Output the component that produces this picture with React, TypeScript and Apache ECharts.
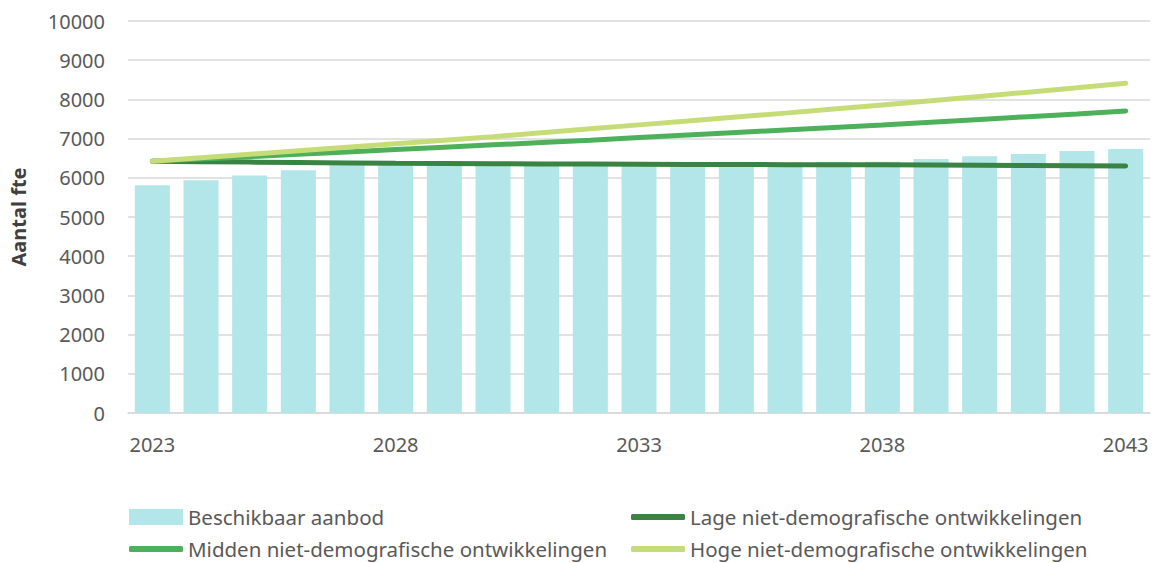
import React, { useEffect, useRef } from "react";
import * as echarts from "echarts";

const years = ["2023","2024","2025","2026","2027","2028","2029","2030","2031","2032","2033","2034","2035","2036","2037","2038","2039","2040","2041","2042","2043"];
const aanbod = [5810, 5940, 6060, 6195, 6320, 6340, 6350, 6360, 6370, 6370, 6380, 6380, 6390, 6390, 6400, 6410, 6480, 6550, 6610, 6685, 6735];
const lage = [6420, 6410, 6400, 6390, 6380, 6370, 6365, 6360, 6355, 6350, 6345, 6340, 6340, 6335, 6330, 6330, 6325, 6320, 6315, 6310, 6300];
const midden = [6420, 6480, 6540, 6600, 6660, 6720, 6780, 6840, 6900, 6960, 7025, 7090, 7155, 7220, 7285, 7350, 7420, 7490, 7560, 7630, 7705];
const hoge = [6420, 6510, 6600, 6690, 6780, 6870, 6960, 7050, 7150, 7250, 7350, 7450, 7550, 7650, 7755, 7860, 7965, 8075, 8185, 8295, 8410];

const names = [
  "Beschikbaar aanbod",
  "Lage niet-demografische ontwikkelingen",
  "Midden niet-demografische ontwikkelingen",
  "Hoge niet-demografische ontwikkelingen",
];
const colors = ["#b3e6e8", "#3a8443", "#4db15b", "#c6dd77"];

const FONT = "'Noto Sans', sans-serif";

export default function App() {
  const ref = useRef<HTMLDivElement>(null);
  useEffect(() => {
    document.body.style.margin = "0";
    const chart = echarts.init(ref.current!, null, { renderer: "svg" });
    const lineSeries = (i: number, data: number[]) => ({
      name: names[i],
      type: "line",
      data,
      symbol: "none",
      lineStyle: { color: colors[i], width: 5, cap: "round" },
      itemStyle: { color: colors[i] },
    });
    const legendText = { fontSize: 20.5, color: "#595959", fontFamily: FONT, lineHeight: 24 };
    const legendItem = (i: number, left: number, top: number) => ({
      left,
      top,
      padding: 0,
      itemWidth: 54,
      itemHeight: i === 0 ? 16 : 6,
      itemGap: 0,
      textStyle: legendText,
      data: [{ name: names[i], icon: i === 0 ? "rect" : "roundRect" }],
    });
    chart.setOption({
      animation: false,
      textStyle: { fontFamily: FONT },
      grid: { left: 127, right: 7, top: 21, bottom: 150 },
      legend: [
        legendItem(0, 129, 505),
        legendItem(1, 631, 505),
        legendItem(2, 129, 537),
        legendItem(3, 631, 537),
      ],
      xAxis: {
        type: "category",
        data: years,
        axisLine: { lineStyle: { color: "#d9d9d9", width: 1.5 } },
        axisTick: { show: false },
        axisLabel: { interval: 4, color: "#595959", fontSize: 20, margin: 21, fontFamily: FONT },
      },
      yAxis: {
        type: "value",
        min: 0,
        max: 10000,
        interval: 1000,
        name: "Aantal fte",
        nameLocation: "middle",
        nameGap: 100,
        nameTextStyle: { fontSize: 20, fontWeight: "bold", color: "#404040", fontFamily: FONT },
        axisLabel: {
          color: "#595959",
          fontSize: 20,
          margin: 23,
          fontFamily: FONT,
          formatter: (v: number) => String(v),
        },
        splitLine: { lineStyle: { color: "#d9d9d9", width: 1.5 } },
      },
      series: [
        {
          name: names[0],
          type: "bar",
          data: aanbod,
          barCategoryGap: "28%",
          itemStyle: { color: colors[0] },
        },
        lineSeries(1, lage),
        lineSeries(2, midden),
        lineSeries(3, hoge),
      ],
    });
    return () => chart.dispose();
  }, []);
  return <div ref={ref} style={{ width: 1157, height: 563 }} />;
}
